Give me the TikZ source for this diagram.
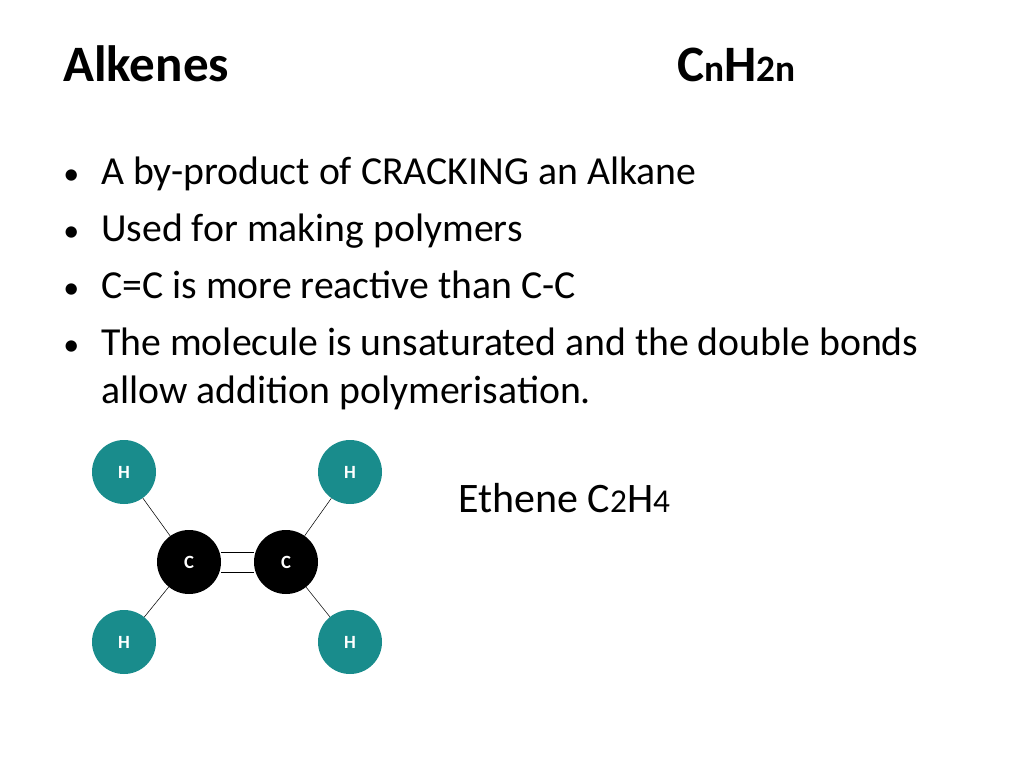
\documentclass[tikz,border=0pt]{standalone}
\usepackage{fontspec}
\setmainfont{Carlito}
\begin{document}
\begin{tikzpicture}[x=0.75pt,y=-0.75pt,
  atomH/.style={circle,fill=teal!90,minimum size=48pt,inner sep=0pt,text=white,font=\fontsize{14}{16}\selectfont\bfseries},
  atomC/.style={circle,fill=black,minimum size=48pt,inner sep=0pt,text=white,font=\fontsize{14}{16}\selectfont\bfseries},
  body/.style={anchor=base west,inner sep=0pt,font=\fontsize{29.8}{36}\selectfont}]
\useasboundingbox (0,0) rectangle (1024,768);

% Title
\node[anchor=base west,inner sep=0pt,font=\fontsize{38.3}{46}\selectfont\bfseries] (title) at (63,81) {Alkenes};
\node[anchor=base west,inner sep=0pt,font=\fontsize{38.3}{46}\selectfont\bfseries] (formula) at (677,81) {C{\fontsize{28}{30}\selectfont n}H{\fontsize{28}{30}\selectfont 2n}};

% Bullets
\node[body,font=\fontsize{24}{30}\selectfont] (b1) at (63,184) {•};
\node[body] (t1) at (101,184) {A by-product of CRACKING an Alkane};
\node[body,font=\fontsize{24}{30}\selectfont] (b2) at (63,241) {•};
\node[body] (t2) at (101,241) {Used for making polymers};
\node[body,font=\fontsize{24}{30}\selectfont] (b3) at (63,298) {•};
\node[body] (t3) at (101,298) {C=C is more reactive than C-C};
\node[body,font=\fontsize{24}{30}\selectfont] (b4) at (63,355) {•};
\node[body] (t4) at (101,355) {The molecule is unsaturated and the double bonds};
\node[body] (t5) at (101,403) {allow addition polymerisation.};

% Molecule
\node[atomC] (c1) at (189,562) {C};
\node[atomC] (c2) at (286,562) {C};
\node[atomH] (h1) at (124,472) {H};
\node[atomH] (h2) at (350,472) {H};
\node[atomH] (h3) at (124,642) {H};
\node[atomH] (h4) at (350,642) {H};
\draw (h1) -- (c1);
\draw (h2) -- (c2);
\draw (h3) -- (c1);
\draw (h4) -- (c2);
\draw ([yshift=-8pt]c1.east) -- ([yshift=-8pt]c2.west);
\draw ([yshift=7.5pt]c1.east) -- ([yshift=7.5pt]c2.west);

\node[body,font=\fontsize{31.5}{38}\selectfont] (ethene) at (458,512) {Ethene C{\fontsize{25}{28}\selectfont 2}H{\fontsize{25}{28}\selectfont 4}};
\end{tikzpicture}
\end{document}
